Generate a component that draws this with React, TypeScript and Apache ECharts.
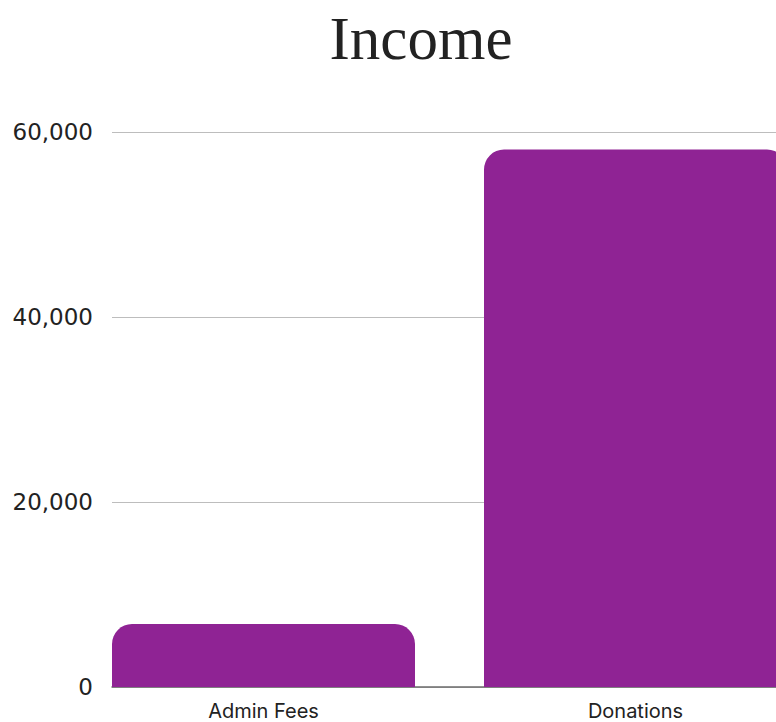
import React, { useEffect, useRef } from "react";
import * as echarts from "echarts";

const categories = ["Admin Fees", "Donations"];
const incomeValues = [6800, 58100];
const yTicks = { min: 0, max: 60000, interval: 20000 };
const titleText = "Income";

export default function App() {
  const ref = useRef<HTMLDivElement>(null);
  useEffect(() => {
    if (!ref.current) return;
    const chart = echarts.init(ref.current, null, { renderer: "svg" });
    const labelFont = "Inter, 'Open Sans', sans-serif";
    chart.setOption({
      animation: false,
      backgroundColor: "#ffffff",
      title: {
        text: titleText,
        left: 416,
        top: 3,
        textAlign: "center",
        textStyle: {
          fontFamily: "'Liberation Serif', 'DejaVu Serif', serif",
          fontSize: 61,
          fontWeight: "normal",
          color: "#222222",
        },
      },
      grid: [
        { left: 112, right: 54, top: 132, bottom: 35 },
        { left: 77.5, right: 8.5, top: 132, bottom: 35 },
      ],
      xAxis: [
        {
          type: "category",
          gridIndex: 0,
          data: categories,
          axisLine: { show: true, lineStyle: { color: "#6b6b6b", width: 1.5 } },
          axisTick: { show: false },
          axisLabel: { show: false },
        },
        {
          type: "category",
          gridIndex: 1,
          data: categories,
          axisLine: { show: false },
          axisTick: { show: false },
          axisLabel: {
            color: "#222222",
            fontFamily: labelFont,
            fontSize: 20,
            lineHeight: 20,
            margin: 14,
          },
        },
      ],
      yAxis: [
        {
          type: "value",
          gridIndex: 0,
          min: yTicks.min,
          max: yTicks.max,
          interval: yTicks.interval,
          axisLine: { show: false },
          axisTick: { show: false },
          splitLine: { lineStyle: { color: "#bdbdbd", width: 1 } },
          axisLabel: {
            color: "#222222",
            fontFamily: "'DejaVu Sans', Inter, sans-serif",
            fontSize: 23,
            margin: 19,
            formatter: (v: number) => v.toLocaleString("en-US"),
          },
        },
        {
          type: "value",
          gridIndex: 1,
          min: yTicks.min,
          max: yTicks.max,
          interval: yTicks.interval,
          show: false,
          splitLine: { show: false },
        },
      ],
      series: [
        {
          type: "bar",
          xAxisIndex: 1,
          yAxisIndex: 1,
          data: incomeValues,
          barWidth: 303,
          itemStyle: { color: "#8f2394", borderRadius: [20, 20, 0, 0] },
          z: 3,
        },
      ],
    });
    return () => chart.dispose();
  }, []);
  return (
    <div
      ref={ref}
      style={{ position: "fixed", left: 0, top: 0, width: 830, height: 722 }}
    />
  );
}
